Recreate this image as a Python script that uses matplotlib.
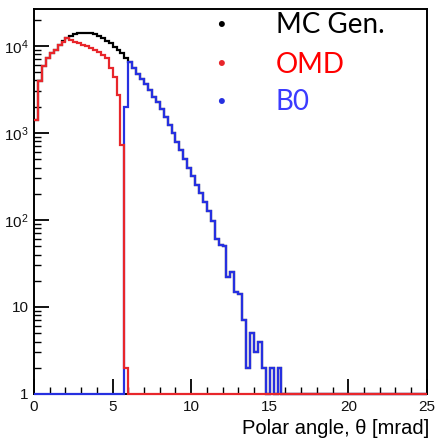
import numpy as np
import matplotlib.pyplot as plt
from matplotlib.ticker import FixedLocator, MultipleLocator, LogLocator, NullFormatter

plt.rcParams['font.family'] = ['Liberation Sans', 'DejaVu Sans']
plt.rcParams['mathtext.default'] = 'regular'

# 100 bins of 0.25 mrad between 0 and 25 mrad
bin_edges = np.linspace(0, 25, 101)

# counts per bin (bins not listed are empty)
mc_gen = [1400, 3900, 5800, 7200, 8300, 9000, 10200, 11300,
          12400, 13000, 13500, 13900, 14100, 14200, 14000, 13600,
          13000, 12300, 11500, 10700, 9800, 9000, 8200, 7300,
          6600, 5600, 4800, 4200, 3600, 3100, 2600, 2240,
          1860, 1510, 1230, 1000, 790, 630, 500, 400,
          316, 250, 204, 162, 126, 98, 60, 52,
          50, 22, 25, 15, 14, 7, 2, 5,
          3, 4, 2, 1, 2, 1, 2]
omd = [1400, 3900, 5800, 7200, 8300, 9000, 10200, 11200,
       12300, 11600, 11100, 10700, 10300, 9900, 9500, 9000,
       8400, 7800, 7200, 5600, 4400, 2750, 730, 2]
b0 = [0] * 23 + [2000,
      6600, 5600, 4800, 4200, 3600, 3100, 2600, 2240,
      1860, 1510, 1230, 1000, 790, 630, 500, 400,
      316, 250, 204, 162, 126, 98, 60, 52,
      50, 22, 25, 15, 14, 7, 2, 5,
      3, 4, 2, 0, 2, 0, 2]

series = [("MC Gen.", mc_gen, "black", "black"),
          ("B0", b0, "#2630e0", "#3b3bff"),
          ("OMD", omd, "#e8262b", "#ff0000")]

ymin, ymax = 1, 2.65e4


def full(vals):
    v = np.zeros(100)
    v[:len(vals)] = vals
    # empty bins sit on the bottom of the log axis, like ROOT does
    return np.clip(v, ymin, None)


fig = plt.figure(figsize=(4.36, 4.41), dpi=100)
ax = fig.add_axes([0.078, 0.1066, 0.901, 0.873])

for name, vals, col, _ in series:
    ax.stairs(full(vals), bin_edges, color=col, lw=1.6, baseline=None,
              zorder=3, clip_on=False)

ax.set_yscale('log')
ax.set_xlim(0, 25)
ax.set_ylim(ymin, ymax)

ax.yaxis.set_major_locator(FixedLocator([1, 10, 100, 1000, 10000]))
ax.set_yticklabels(['1', '10', '$10^{2}$', '$10^{3}$', '$10^{4}$'])
ax.yaxis.set_minor_locator(LogLocator(base=10, subs=np.arange(2, 10)))
ax.yaxis.set_minor_formatter(NullFormatter())
ax.xaxis.set_major_locator(MultipleLocator(5))
ax.xaxis.set_minor_locator(MultipleLocator(1))

ax.tick_params(which='both', direction='in', top=False, right=False,
               labelsize=11, colors='black', labelcolor='#111111')
ax.tick_params(which='major', length=11, width=1.3, pad=4)
ax.tick_params(which='minor', length=5, width=1.0)
for s in ax.spines.values():
    s.set_linewidth(1.4)

ax.set_xlabel(u"Polar angle, \u03b8 [mrad]", fontsize=14.5, loc='right', labelpad=4)
ax.xaxis.label.set_position((1.005, 0))

# legend in the style of the slide: bullet + coloured text
leg_y = [0.958, 0.855, 0.758]
for (name, vals, col, tcol), y in zip([series[0], series[2], series[1]], leg_y):
    ax.text(0.475, y, u"\u2022", color=col, fontsize=16, transform=ax.transAxes,
            ha='center', va='center')
    ax.text(0.615, y, name, color=tcol, fontsize=20, family=['Lato', 'DejaVu Sans'],
            transform=ax.transAxes, ha='left', va='center')

fig.savefig("out.png", dpi=100)
